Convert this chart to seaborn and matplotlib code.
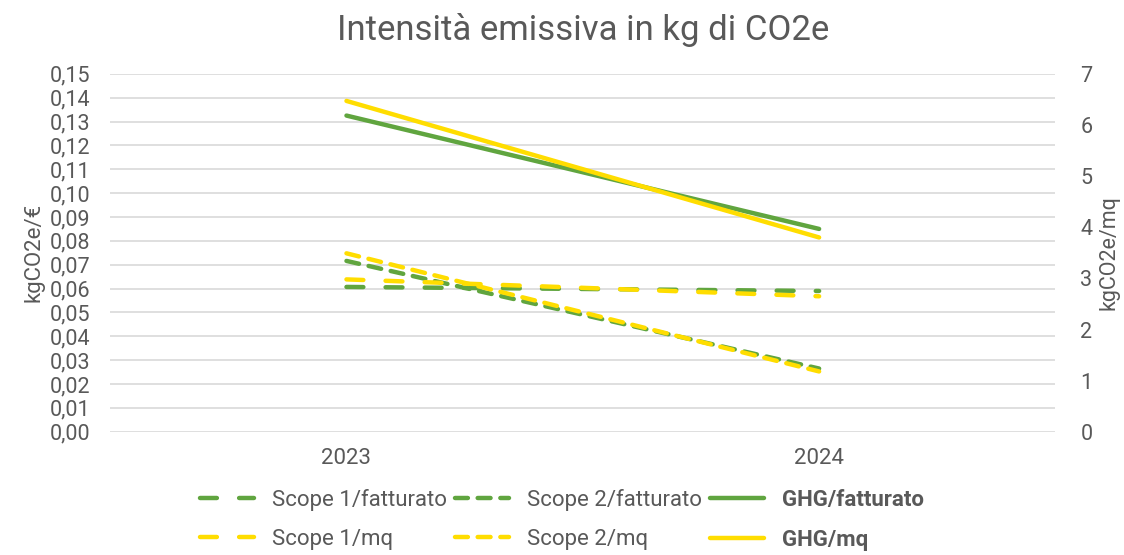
import matplotlib
matplotlib.use('Agg')
import matplotlib.pyplot as plt
from matplotlib.ticker import FuncFormatter, MultipleLocator
import pandas as pd
import seaborn as sns

# data
years = ['2023', '2024']
scope1_fatturato = [0.0607, 0.0590]
scope2_fatturato = [0.0716, 0.0265]
ghg_fatturato = [0.1325, 0.0850]
scope1_mq = [2.98, 2.65]
scope2_mq = [3.49, 1.18]
ghg_mq = [6.47, 3.80]

green = '#60A53F'
yellow = '#FFDD00'
grey = '#595959'

sns.set_theme(style='white')
plt.rcParams['font.family'] = ['Roboto', 'DejaVu Sans']
plt.rcParams['text.color'] = grey
plt.rcParams['axes.labelcolor'] = grey
plt.rcParams['xtick.color'] = grey
plt.rcParams['ytick.color'] = grey

fig = plt.figure(figsize=(11.24, 5.55), dpi=100)
ax = fig.add_axes([0.098, 0.222, 0.841, 0.645])
ax2 = ax.twinx()

long_dash = (3.8, 5.0)
short_dash = (2.9, 2.2)


def draw(axis, vals, color, dashes, label, z):
    df = pd.DataFrame({'year': years, 'v': vals})
    sns.lineplot(data=df, x='year', y='v', ax=axis, color=color, lw=3.2,
                 label=label, legend=False, zorder=z)
    ln = axis.get_lines()[-1]
    ln.set_solid_capstyle('round')
    ln.set_dash_capstyle('round')
    if dashes is not None:
        ln.set_dashes(dashes)
    return ln


h = {}
h['s1f'] = draw(ax, scope1_fatturato, green, long_dash, 'Scope 1/fatturato', 3)
h['s2f'] = draw(ax, scope2_fatturato, green, short_dash, 'Scope 2/fatturato', 3)
h['gf'] = draw(ax, ghg_fatturato, green, None, 'GHG/fatturato', 3)
h['s1m'] = draw(ax2, scope1_mq, yellow, long_dash, 'Scope 1/mq', 4)
h['s2m'] = draw(ax2, scope2_mq, yellow, short_dash, 'Scope 2/mq', 4)
h['gm'] = draw(ax2, ghg_mq, yellow, None, 'GHG/mq', 4)

ax.set_xlim(-0.5, 1.5)
ax.set_ylim(0, 0.15)
ax2.set_ylim(0, 7)
ax.yaxis.set_major_locator(MultipleLocator(0.01))
ax2.yaxis.set_major_locator(MultipleLocator(1))
ax.yaxis.set_major_formatter(FuncFormatter(lambda v, p: ('%.2f' % v).replace('.', ',')))
ax.grid(axis='y', color='#D9D9D9', lw=1.2)
ax.set_axisbelow(True)
for a in (ax, ax2):
    for s in a.spines.values():
        s.set_visible(False)
    a.tick_params(length=0, labelsize=15.5)
ax.tick_params(axis='y', pad=14)
ax2.tick_params(axis='y', pad=18)
ax.tick_params(axis='x', pad=12, labelsize=16)
ax.set_xlabel('')
ax.set_ylabel('kgCO2e/€', fontsize=16, labelpad=4)
ax2.set_ylabel('kgCO2e/mq', fontsize=15.5, labelpad=4)
ax.set_title('Intensità emissiva in kg di CO2e', fontsize=25, color=grey, pad=24)

order = ['s1f', 's1m', 's2f', 's2m', 'gf', 'gm']
leg = fig.legend([h[k] for k in order], [h[k].get_label() for k in order],
                 loc='lower center', bbox_to_anchor=(0.5, -0.028), ncol=3, frameon=False,
                 fontsize=16, handlelength=2.4, handletextpad=0.8, columnspacing=0.4,
                 labelspacing=0.8)
for t in leg.get_texts():
    if t.get_text().startswith('GHG'):
        t.set_fontweight('bold')

fig.savefig('out.png', dpi=100)
